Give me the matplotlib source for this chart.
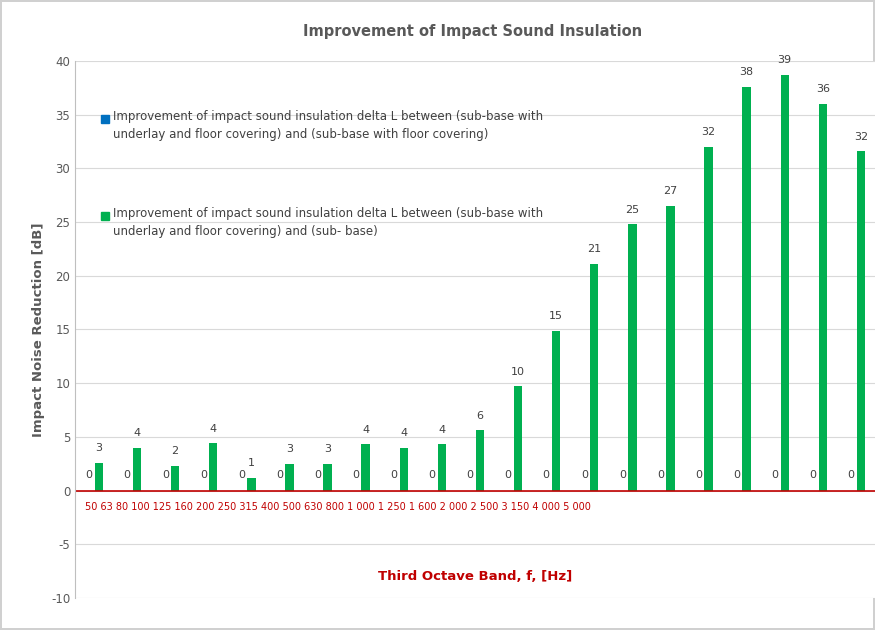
import matplotlib.pyplot as plt
import numpy as np

plt.rcParams["axes.unicode_minus"] = False

bands = ["50", "63", "80", "100", "125", "160", "200", "250", "315", "400", "500",
         "630", "800", "1 000", "1 250", "1 600", "2 000", "2 500", "3 150", "4 000", "5 000"]
delta_floor = [0] * 21
delta_base = [2.6, 4.0, 2.3, 4.4, 1.2, 2.5, 2.5, 4.3, 4.0, 4.3, 5.6, 9.7, 14.9,
              21.1, 24.8, 26.5, 32.0, 37.6, 38.7, 36.0, 31.6]
base_labels = [3, 4, 2, 4, 1, 3, 3, 4, 4, 4, 6, 10, 15, 21, 25, 27, 32, 38, 39, 36, 32]

fig = plt.figure(figsize=(8.75, 6.3), dpi=100)
fig.patch.set_edgecolor("#d0d0d0")
fig.patch.set_linewidth(1.5)
ax = fig.add_axes([0.0857, 0.0508, 0.9143, 0.8524])

x = np.arange(len(bands))
off = 0.13
w = 0.22
ax.bar(x - off, delta_floor, w, color="#0070C0")
ax.bar(x + off, delta_base, w, color="#00B050")
for i in x:
    ax.text(i - off, 1.0, "0", ha="center", va="bottom", fontsize=8, color="#404040")
    ax.text(i + off, delta_base[i] + 0.9, str(base_labels[i]), ha="center",
            va="bottom", fontsize=8, color="#404040")

ax.set_xlim(-0.5, 20.5)
ax.set_ylim(-10, 40)
ax.set_yticks(range(-10, 41, 5))
ax.tick_params(axis="y", length=0, labelsize=8.5, labelcolor="#595959")
ax.set_xticks([])
ax.grid(axis="y", color="#d9d9d9", linewidth=0.8)
ax.set_axisbelow(True)
for s in ["top", "right", "bottom"]:
    ax.spines[s].set_visible(False)
ax.spines["left"].set_color("#bfbfbf")
ax.axhline(0, color="#C00000", linewidth=1.2)

ax.text(0.012, -1.5, " ".join(bands), transform=ax.get_yaxis_transform(),
        ha="left", va="center", fontsize=7, color="#C00000")
ax.text(0.5, -8.0, "Third Octave Band, f, [Hz]", transform=ax.get_yaxis_transform(),
        ha="center", va="center", fontsize=9.5, fontweight="bold", color="#C00000")

ax.set_ylabel("Impact Noise Reduction [dB]", fontsize=9.5, fontweight="bold", color="#595959")
fig.text(0.54, 0.95, "Improvement of Impact Sound Insulation", ha="center", va="center",
         fontsize=10.5, fontweight="bold", color="#595959")

leg = [("#0070C0", 34.6, "Improvement of impact sound insulation delta L between (sub-base with\nunderlay and floor covering) and (sub-base with floor covering)"),
       ("#00B050", 25.6, "Improvement of impact sound insulation delta L between (sub-base with\nunderlay and floor covering) and (sub- base)")]
for c, yv, t in leg:
    ax.plot([0.037], [yv], marker="s", color=c, markersize=5.5, transform=ax.get_yaxis_transform())
    ax.text(0.048, yv + 0.8, t, transform=ax.get_yaxis_transform(), ha="left", va="top",
            fontsize=8.5, color="#404040", linespacing=1.5)

plt.savefig("out.png", dpi=100)
